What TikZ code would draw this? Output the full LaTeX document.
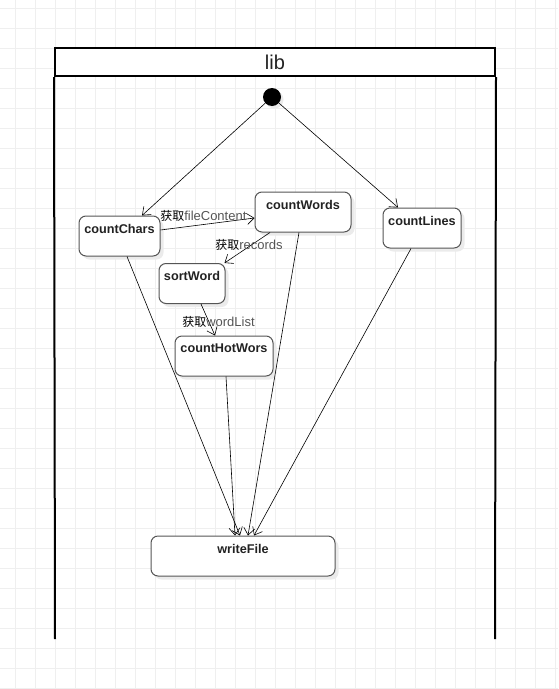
\documentclass[tikz,border=0pt]{standalone}
\usepackage{fontspec}
\setmainfont{Liberation Sans}
\newfontfamily\cjk{Noto Sans CJK SC}
\usetikzlibrary{arrows.meta,calc,shadows}
\def\px{0.75pt}
\definecolor{gridc}{HTML}{EFEFEF}
\definecolor{boxline}{HTML}{555555}
\definecolor{txt}{HTML}{222222}
\definecolor{lbltxt}{HTML}{555555}
\definecolor{shad}{HTML}{EBEBEB}
\newcommand{\zh}[1]{{\cjk\fontsize{9}{10}\selectfont\color{black}#1}}
\tikzset{
  stbox/.style={draw=boxline, line width=1*\px, rounded corners=7*\px, fill=white,
    minimum height=40*\px, inner sep=0pt,
    drop shadow={shadow xshift=3.5*\px, shadow yshift=-3.5*\px, fill=shad, opacity=1}},
  boxlbl/.style={anchor=center, yshift=-13*\px, font=\bfseries\fontsize{9.5}{11}\selectfont, text=txt, inner sep=0pt},
  edgelbl/.style={anchor=west, inner sep=0pt, font=\fontsize{9.75}{11}\selectfont, text=lbltxt},
  flow/.style={draw=black, line width=0.6*\px, -{Straight Barb[length=7*\px, width=11*\px, line width=0.6*\px]}},
  frame/.style={line width=2*\px, draw=black}
}
\begin{document}
\begin{tikzpicture}[x=0.75pt, y=-0.75pt]
\useasboundingbox (0,0) rectangle (558,689);
% grid
\foreach \gx in {15,35,...,555} { \draw[gridc, line width=1*\px] (\gx,0) -- (\gx,689); }
\foreach \gy in {8,28,...,688} { \draw[gridc, line width=1*\px] (0,\gy) -- (558,\gy); }
% pool
\node[frame, fill=white, minimum width=440*\px, minimum height=28*\px, inner sep=0pt,
  font=\fontsize{15}{17}\selectfont, text=txt] (hdr) at (275,62) {lib};
\coordinate (bl) at (55,639);
\coordinate (br) at (495,639);
\draw[frame] (hdr.south west) -- (bl);
\draw[frame] (hdr.south east) -- (br);
% initial
\node[circle, fill=black, minimum size=18*\px, inner sep=0pt,
  drop shadow={shadow xshift=2.5*\px, shadow yshift=-2.5*\px, fill=shad, opacity=1}] (init) at (272,97) {};
% states
\node[stbox, minimum width=81*\px, label={[boxlbl]90:countChars}] (cc) at (119.5,236) {};
\node[stbox, minimum width=96*\px, label={[boxlbl]90:countWords}] (cw) at (303,212) {};
\node[stbox, minimum width=78*\px, label={[boxlbl]90:countLines}] (cl) at (422,228) {};
\node[stbox, minimum width=66*\px, label={[boxlbl]90:sortWord}] (sw) at (192,283.5) {};
\node[stbox, minimum width=98*\px, label={[boxlbl]90:countHotWors}] (ch) at (224,356) {};
\node[stbox, minimum width=184*\px, label={[boxlbl]90:writeFile}] (wf) at (243,556) {};
% edges
\draw[flow] (init) -- ($(cc.north)+(22.5,0)$);
\draw[flow] (init) -- ($(cl.north)+(-24,0)$);
\draw[flow] ($(cc.east)+(0,-6)$) -- ($(cw.west)+(0,6)$);
\draw[flow] ($(cw.south)+(-33,0)$) -- ($(sw.north east)+(-1,0)$);
\draw[flow] ($(sw.south)+(9,0)$) -- ($(ch.north)+(-9,0)$);
\draw[flow] ($(cc.south)+(7.5,0)$) -- ($(wf.north)+(-3,0)$);
\draw[flow] ($(cw.south)+(-4,0)$) -- ($(wf.north)+(5,0)$);
\draw[flow] ($(ch.south)+(2,0)$) -- ($(wf.north)+(-8,0)$);
\draw[flow] ($(cl.south)+(-11,0)$) -- ($(wf.north)+(11,0)$);
% edge labels
\node[edgelbl] (l1) at (160,216) {\zh{获取}fileContent};
\node[edgelbl] (l2) at (215,245) {\zh{获取}records};
\node[edgelbl] (l3) at (182,322) {\zh{获取}wordList};
\end{tikzpicture}
\end{document}
